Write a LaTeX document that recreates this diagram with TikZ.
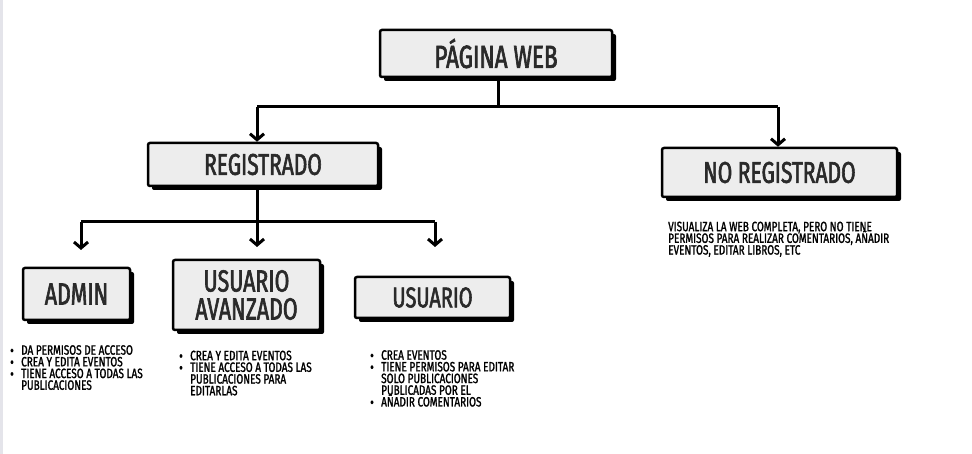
\documentclass[tikz,border=0pt]{standalone}
\usepackage{fontspec}
\usetikzlibrary{arrows.meta,shadows}
\newfontfamily\headfont[FakeStretch=0.7,FakeBold=2]{Fira Sans}
\newfontfamily\bodyfont[FakeStretch=0.74,FakeBold=1.5]{Fira Sans}
\definecolor{boxfill}{HTML}{EDEDED}
\definecolor{edgegray}{HTML}{E4E4EA}
\definecolor{headtext}{HTML}{2A2A2A}
\newcommand{\itm}[1]{\par\hangindent=11pt\hangafter=1\noindent\makebox[11pt][l]{\raisebox{-1pt}{\fontsize{15pt}{11.7pt}\selectfont\textbullet}}#1}
\newcommand{\notelist}[2]{\parbox[t]{#1}{\raggedright\lineskiplimit=-\maxdimen\baselineskip=11.7pt #2}}
\begin{document}
\begin{tikzpicture}[x=1pt,y=-1pt,
  box/.style={draw=black, line width=2.5pt, fill=boxfill, rounded corners=2pt,
    inner sep=0pt, align=center, text=headtext,
    drop shadow={shadow xshift=4pt, shadow yshift=-4pt, fill=black, opacity=1}},
  conn/.style={line width=3pt},
  arr/.style={conn, -{Straight Barb[length=6pt,width=14pt,line width=3pt]}},
  notes/.style={anchor=north west, inner sep=0pt,
    font={\bodyfont\fontsize{13.5pt}{11.7pt}\selectfont}}
]
\useasboundingbox (0,0) rectangle (972,454);
\fill[edgegray] (0,0) rectangle (2.5,454);

\node[box, minimum width=232pt, minimum height=47pt, font={\headfont\fontsize{32pt}{32pt}\selectfont}] (web) at (496,53.5) {PÁGINA WEB};
\node[box, minimum width=230pt, minimum height=43pt, font={\headfont\fontsize{30pt}{30pt}\selectfont}] (reg) at (263,164.5) {REGISTRADO};
\node[box, minimum width=235pt, minimum height=49pt, font={\headfont\fontsize{30pt}{30pt}\selectfont}] (noreg) at (779.5,172.5) {NO REGISTRADO};
\node[box, minimum width=107pt, minimum height=52pt, font={\headfont\fontsize{30.5pt}{30.5pt}\selectfont}] (admin) at (76.5,294) {ADMIN};
\node[box, minimum width=147pt, minimum height=70pt, font={\headfont\fontsize{30.5pt}{28pt}\selectfont}] (adv) at (246.5,295) {USUARIO\\AVANZADO};
\node[box, minimum width=155pt, minimum height=41pt, font={\headfont\fontsize{28.5pt}{28.5pt}\selectfont}] (usr) at (432.5,297.5) {USUARIO};

\coordinate (j1) at (498,107);
\coordinate (jL) at (257,107);
\coordinate (jR) at (778,107);
\coordinate (k) at (257,222);
\coordinate (kL) at (81,222);
\coordinate (kR) at (435,222);
\coordinate (tA) at (81,250);
\coordinate (tB) at (257,247);
\coordinate (tC) at (435,247);

\draw[conn] (j1 |- web.south) -- (j1);
\draw[conn] (jL) -- (jR);
\draw[arr] (jL) -- (jL |- reg.north);
\draw[arr] (jR) -- (jR |- noreg.north);
\draw[conn] (k |- reg.south) -- (k);
\draw[conn] (kL) -- (kR);
\draw[arr] (kL) -- (tA);
\draw[arr] (k) -- (tB);
\draw[arr] (kR) -- (tC);

\node[notes] (nadmin) at (10,345) {\notelist{170pt}{%
\itm{DA PERMISOS DE ACCESO}
\itm{CREA Y EDITA EVENTOS}
\itm{TIENE ACCESO A TODAS LAS\newline PUBLICACIONES}}};
\node[notes] (nadv) at (179,350.5) {\notelist{170pt}{%
\itm{CREA Y EDITA EVENTOS}
\itm{TIENE ACCESO A TODAS LAS\newline PUBLICACIONES PARA\newline EDITARLAS}}};
\node[notes] (nusr) at (370,350) {\notelist{180pt}{%
\itm{CREA EVENTOS}
\itm{TIENE PERMISOS PARA EDITAR\newline SOLO PUBLICACIONES\newline PUBLICADAS POR EL}
\itm{AÑADIR COMENTARIOS}}};
\node[notes] (nnoreg) at (668,221.5) {\notelist{290pt}{%
VISUALIZA LA WEB COMPLETA, PERO NO TIENE\newline
PERMISOS PARA REALIZAR COMENTARIOS, AÑADIR\newline
EVENTOS, EDITAR LIBROS, ETC}};
\end{tikzpicture}
\end{document}
